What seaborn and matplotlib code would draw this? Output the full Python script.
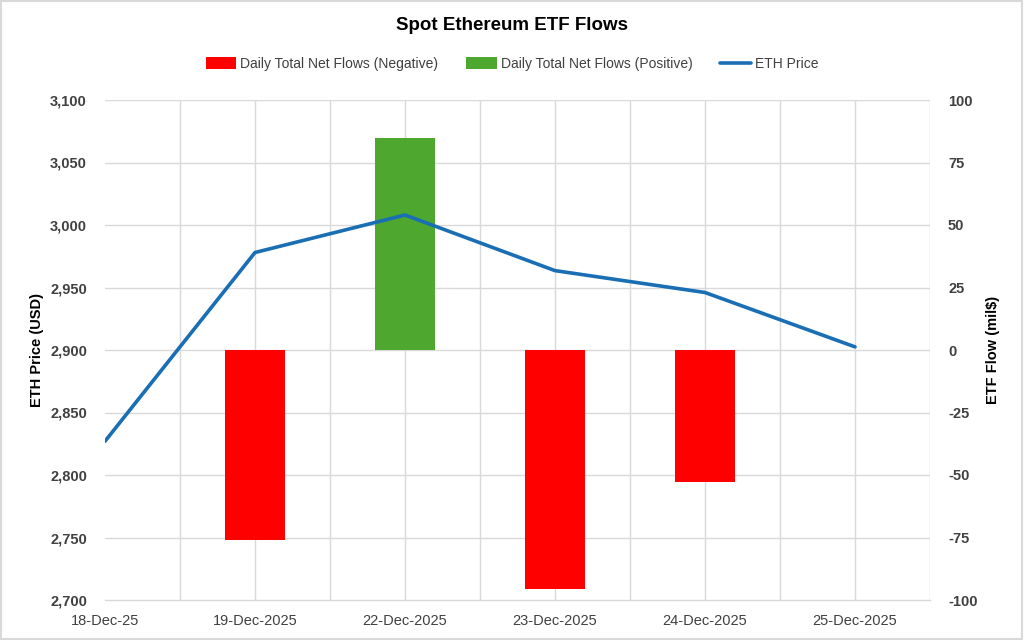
import numpy as np
import pandas as pd
import matplotlib
matplotlib.use('Agg')
import matplotlib.pyplot as plt
from matplotlib.patches import Patch, Rectangle
from matplotlib.lines import Line2D
import seaborn as sns

dates = ['18-Dec-25', '19-Dec-2025', '22-Dec-2025', '23-Dec-2025', '24-Dec-2025', '25-Dec-2025']
eth_price = [2827, 2978, 3008, 2963.5, 2946, 2902.5]
flow_dates = ['19-Dec-2025', '22-Dec-2025', '23-Dec-2025', '24-Dec-2025']
net_flows = [-76.0, 85.0, -95.7, -52.9]

sns.set_theme(style='white')
plt.rcParams['font.family'] = ['Liberation Sans Narrow', 'Liberation Sans', 'DejaVu Sans']
plt.rcParams['axes.unicode_minus'] = False

RED = '#FF0000'
GREEN = '#4EA72E'
BLUE = '#196EB4'
GRID = '#D9D9D9'
TXT = '#404040'

pos = {d: i for i, d in enumerate(dates)}
price_df = pd.DataFrame({'x': [pos[d] for d in dates], 'price': eth_price})
flow_df = pd.DataFrame({'x': [pos[d] for d in flow_dates], 'flow': net_flows})
flow_df['sign'] = np.where(flow_df['flow'] < 0, 'neg', 'pos')

fig = plt.figure(figsize=(10.24, 6.4), dpi=100)
ax = fig.add_axes([105 / 1024, 40 / 640, 825 / 1024, 500 / 640])

# bars on the base axes (flows), line on the twin (price) so the line sits on top
sns.barplot(data=flow_df, x='x', y='flow', hue='sign', palette={'neg': RED, 'pos': GREEN},
            dodge=False, native_scale=True, width=0.4, ax=ax, legend=False,
            saturation=1, edgecolor='none', linewidth=0)
ax.set_ylim(-100, 100)
ax.set_yticks(np.arange(-100, 101, 25))
ax.set_xlim(0, 5.5)

ax2 = ax.twinx()
sns.lineplot(data=price_df, x='x', y='price', color=BLUE, linewidth=2.6, ax=ax2)
ax2.set_ylim(2700, 3100)
ax2.set_yticks(np.arange(2700, 3101, 50))
ax2.set_yticklabels([f'{v:,}' for v in range(2700, 3101, 50)])
ax2.set_xlim(0, 5.5)

# swap sides: price on the left, flows on the right
ax.yaxis.tick_right()
ax.yaxis.set_label_position('right')
ax2.yaxis.tick_left()
ax2.yaxis.set_label_position('left')

ax.set_zorder(1)
ax2.set_zorder(2)
ax.patch.set_visible(False)
ax2.patch.set_visible(False)

for y in np.arange(-75, 101, 25):
    ax.axhline(y, color=GRID, lw=1, zorder=0)
for xv in np.arange(0.5, 5.6, 0.5):
    ax.axvline(xv, color=GRID, lw=1, zorder=0)
ax.set_axisbelow(True)

ax.set_xticks(range(len(dates)))
ax.set_xticklabels(dates)
ax.set_xlabel('')
ax2.set_xlabel('')
ax.tick_params(axis='x', colors=TXT, labelsize=10.5, length=5, width=1, color=GRID, pad=5)
ax.tick_params(axis='y', colors=TXT, labelsize=10.5, length=0, pad=13)
ax2.tick_params(axis='y', colors=TXT, labelsize=10.5, length=0, pad=13)
for t in ax.get_yticklabels() + ax2.get_yticklabels():
    t.set_fontweight('bold')
ax2.tick_params(axis='x', length=0)

ax2.set_ylabel('ETH Price (USD)', fontsize=10.5, fontweight='bold', color='black', labelpad=4)
ax.set_ylabel('ETF Flow (mil$)', fontsize=10.5, fontweight='bold', color='black', labelpad=6)

for a in (ax, ax2):
    for s in ('top', 'left', 'right', 'bottom'):
        a.spines[s].set_visible(False)
ax.spines['bottom'].set_visible(True)
ax.spines['bottom'].set_color(GRID)
ax.spines['bottom'].set_linewidth(1)

fig.text(0.5, 1 - 26 / 640, 'Spot Ethereum ETF Flows', ha='center', va='center',
         fontsize=13.5, fontweight='bold', color='black')

handles = [Patch(facecolor=RED, edgecolor='none'),
           Patch(facecolor=GREEN, edgecolor='none'),
           Line2D([0], [0], color=BLUE, lw=2.6)]
labels = ['Daily Total Net Flows (Negative)', 'Daily Total Net Flows (Positive)', 'ETH Price']
fig.legend(handles, labels, loc='center', bbox_to_anchor=(0.5, 1 - 64 / 640), ncol=3,
           frameon=False, fontsize=10, labelcolor=TXT, handlelength=2.2, handleheight=0.9,
           columnspacing=2.0, handletextpad=0.3)

fig.patches.append(Rectangle((0.001, 0.002), 0.997, 0.996, transform=fig.transFigure,
                             fill=False, edgecolor=GRID, linewidth=1.5))

fig.savefig('out.png', dpi=100)
